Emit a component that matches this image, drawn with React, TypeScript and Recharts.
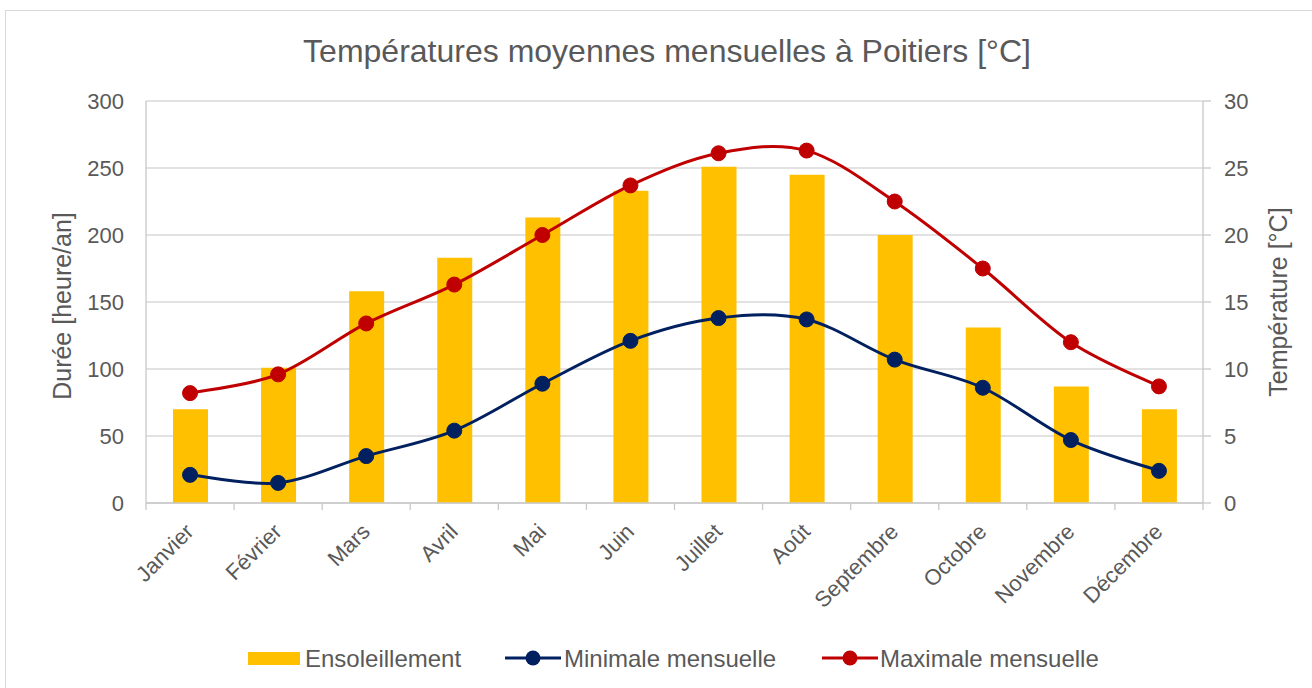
import React from 'react';
import { ComposedChart, Bar, Line, XAxis, YAxis, CartesianGrid } from 'recharts';

const months = [
  'Janvier', 'Février', 'Mars', 'Avril', 'Mai', 'Juin',
  'Juillet', 'Août', 'Septembre', 'Octobre', 'Novembre', 'Décembre',
];
// heures d'ensoleillement
const sunshine = [70, 101, 158, 183, 213, 233, 251, 245, 200, 131, 87, 70];
// °C
const tempMin = [2.1, 1.5, 3.5, 5.4, 8.9, 12.1, 13.8, 13.7, 10.7, 8.6, 4.7, 2.4];
const tempMax = [8.2, 9.6, 13.4, 16.3, 20.0, 23.7, 26.1, 26.3, 22.5, 17.5, 12.0, 8.7];
const leftTicks = [0, 50, 100, 150, 200, 250, 300];
const rightTicks = [0, 5, 10, 15, 20, 25, 30];

const data = months.map((m, i) => ({
  month: m,
  sun: sunshine[i],
  min: tempMin[i],
  max: tempMax[i],
}));

const W = 1312;
const H = 688;
const LEFT_W = 146;
const RIGHT_W = 109;
const TOP = 101;
const XAXIS_H = 185;
const BAND = (W - LEFT_W - RIGHT_W) / months.length;

const FONT = '"Liberation Sans", Arial, sans-serif';
const TEXT = '#595959';
const AXIS = '#c8c8c8';
const GRID = '#d9d9d9';
const YELLOW = '#FFC000';
const NAVY = '#002060';
const RED = '#C00000';

// lissage façon Excel (Catmull-Rom)
function smoothCurve(context: any) {
  let pts: number[][] = [];
  return {
    areaStart() {},
    areaEnd() {},
    lineStart() {
      pts = [];
    },
    lineEnd() {
      const n = pts.length;
      if (!n) return;
      context.moveTo(pts[0][0], pts[0][1]);
      for (let i = 0; i < n - 1; i++) {
        const p0 = pts[i - 1] || pts[i];
        const p1 = pts[i];
        const p2 = pts[i + 1];
        const p3 = pts[i + 2] || p2;
        context.bezierCurveTo(
          p1[0] + (p2[0] - p0[0]) / 6,
          p1[1] + (p2[1] - p0[1]) / 6,
          p2[0] - (p3[0] - p1[0]) / 6,
          p2[1] - (p3[1] - p1[1]) / 6,
          p2[0],
          p2[1]
        );
      }
    },
    point(x: number, y: number) {
      pts.push([+x, +y]);
    },
  };
}

const MonthTick = (props: any) => {
  const { x, y, payload, index } = props;
  const half = BAND / 2;
  const ax = x + 5;
  const ay = y + 30;
  return (
    <g>
      <line x1={x - half} y1={y} x2={x - half} y2={y + 7} stroke={AXIS} strokeWidth={1.3} />
      {index === months.length - 1 && (
        <line x1={x + half} y1={y} x2={x + half} y2={y + 7} stroke={AXIS} strokeWidth={1.3} />
      )}
      <text
        x={ax}
        y={ay}
        transform={`rotate(-45, ${ax}, ${ay})`}
        textAnchor="end"
        fontSize={22}
        fontFamily={FONT}
        fill={TEXT}
      >
        {payload.value}
      </text>
    </g>
  );
};

export default function App() {
  return (
    <div
      style={{
        position: 'absolute',
        left: 0,
        top: 0,
        width: W,
        height: H,
        overflow: 'hidden',
        background: '#fff',
      }}
    >
      <div
        style={{
          position: 'absolute',
          left: 5,
          top: 10,
          width: 1400,
          height: 800,
          border: '1px solid #d9d9d9',
        }}
      />
      <div style={{ position: 'absolute', left: 0, top: 0 }}>
        <ComposedChart
          width={W}
          height={H}
          data={data}
          margin={{ top: TOP, right: 0, left: 0, bottom: 0 }}
        >
          <CartesianGrid yAxisId="left" vertical={false} stroke={GRID} strokeWidth={1.3} />
          <XAxis
            dataKey="month"
            height={XAXIS_H}
            interval={0}
            tickSize={0}
            tickMargin={0}
            tickLine={false}
            axisLine={{ stroke: AXIS, strokeWidth: 1.3 }}
            tick={<MonthTick />}
          />
          <YAxis
            yAxisId="left"
            orientation="left"
            width={LEFT_W}
            domain={[0, 300]}
            ticks={leftTicks}
            tickSize={0}
            tickMargin={22}
            tickLine={false}
            axisLine={{ stroke: AXIS, strokeWidth: 1.3 }}
            tick={{ fontSize: 22, fontFamily: FONT, fill: TEXT }}
          />
          <YAxis
            yAxisId="right"
            orientation="right"
            width={RIGHT_W}
            domain={[0, 30]}
            ticks={rightTicks}
            tickSize={8}
            tickMargin={13}
            tickLine={{ stroke: AXIS, strokeWidth: 1.3 }}
            axisLine={{ stroke: AXIS, strokeWidth: 1.3 }}
            tick={{ fontSize: 22, fontFamily: FONT, fill: TEXT, textAnchor: 'start' }}
          />
          <Bar yAxisId="left" dataKey="sun" fill={YELLOW} barSize={35} isAnimationActive={false} />
          <Line
            yAxisId="right"
            dataKey="min"
            type={smoothCurve as any}
            stroke={NAVY}
            strokeWidth={3}
            dot={{ r: 7.5, fill: NAVY, stroke: NAVY, strokeWidth: 1 }}
            isAnimationActive={false}
          />
          <Line
            yAxisId="right"
            dataKey="max"
            type={smoothCurve as any}
            stroke={RED}
            strokeWidth={3}
            dot={{ r: 7.5, fill: RED, stroke: RED, strokeWidth: 1 }}
            isAnimationActive={false}
          />
        </ComposedChart>
      </div>
      <svg
        width={W}
        height={H}
        style={{ position: 'absolute', left: 0, top: 0, pointerEvents: 'none' }}
        fontFamily={FONT}
      >
        <text x={667} y={62} textAnchor="middle" fontSize={32} fill={TEXT}>
          Températures moyennes mensuelles à Poitiers [°C]
        </text>
        <text
          x={71}
          y={306}
          textAnchor="middle"
          fontSize={25}
          fill={TEXT}
          transform="rotate(-90, 71, 306)"
        >
          Durée [heure/an]
        </text>
        <text
          x={1287}
          y={302}
          textAnchor="middle"
          fontSize={25}
          fill={TEXT}
          transform="rotate(-90, 1287, 302)"
        >
          Température [°C]
        </text>
        <rect x={248} y={652} width={52} height={13} fill={YELLOW} />
        <text x={305} y={667} fontSize={24} fill={TEXT}>Ensoleillement</text>
        <line x1={505} y1={658} x2={561} y2={658} stroke={NAVY} strokeWidth={3} />
        <circle cx={533} cy={658} r={7.5} fill={NAVY} />
        <text x={564} y={667} fontSize={24} fill={TEXT}>Minimale mensuelle</text>
        <line x1={822} y1={658} x2={878} y2={658} stroke={RED} strokeWidth={3} />
        <circle cx={850} cy={658} r={7.5} fill={RED} />
        <text x={880} y={667} fontSize={24} fill={TEXT}>Maximale mensuelle</text>
      </svg>
    </div>
  );
}
